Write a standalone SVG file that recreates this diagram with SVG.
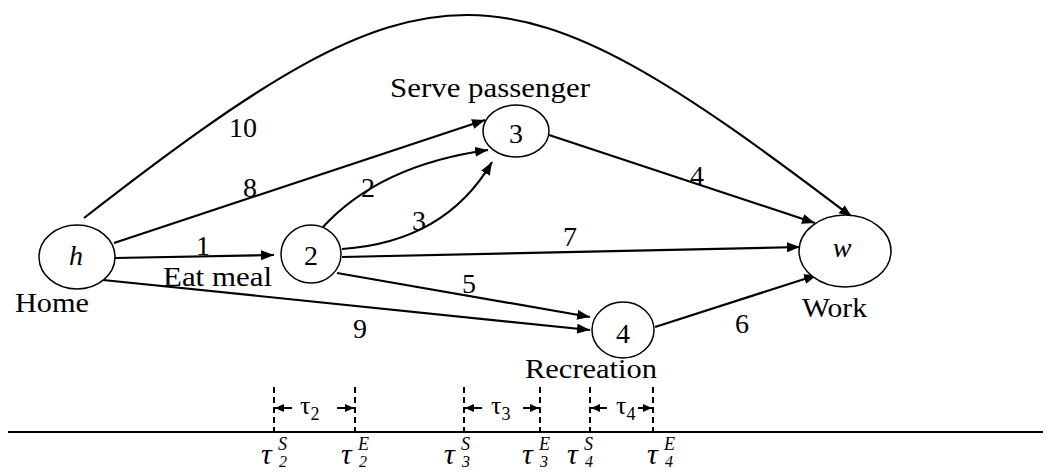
<svg xmlns="http://www.w3.org/2000/svg" width="1051" height="472" viewBox="0 0 1051 472" font-family="'Liberation Serif', 'DejaVu Serif', serif">
<style>
.node{fill:#fff;stroke:#000;stroke-width:1.5}
.edge{fill:none;stroke:#000;stroke-width:2.2}
.dash{fill:none;stroke:#000;stroke-width:2;stroke-dasharray:6 4}
text{font-family:'Liberation Serif','DejaVu Serif',serif;fill:#000}
.lbl{font-size:28px;text-anchor:middle}
.name{font-size:28px}
.it{font-style:italic}
</style>
<defs>
<marker id="ah" markerUnits="userSpaceOnUse" markerWidth="14" markerHeight="10" refX="13" refY="5" orient="auto"><path d="M0,0 L13,5 L0,10 Z" fill="#000"/></marker>
<marker id="sh" markerUnits="userSpaceOnUse" markerWidth="10" markerHeight="8" refX="9" refY="4" orient="auto"><path d="M0,0 L9,4 L0,8 Z" fill="#000"/></marker>
</defs>
<rect width="1051" height="472" fill="#fff"/>
<g id="connectors">
<path class="edge" d="M84,218 C435,-55 501,-50 852,217" marker-end="url(#ah)"/>
<path class="edge" d="M114,243 L485,120" marker-end="url(#ah)"/>
<path class="edge" d="M115,258 L274,255" marker-end="url(#ah)"/>
<path class="edge" d="M103,280 L590,330" marker-end="url(#ah)"/>
<path class="edge" d="M323,227 Q380,165 488,150" marker-end="url(#ah)"/>
<path class="edge" d="M342,249 Q445,242 492,162" marker-end="url(#ah)"/>
<path class="edge" d="M342,257 L800,247" marker-end="url(#ah)"/>
<path class="edge" d="M337,273 L590,317" marker-end="url(#ah)"/>
<path class="edge" d="M549,135 L815,223" marker-end="url(#ah)"/>
<path class="edge" d="M655,327 L817,275" marker-end="url(#ah)"/>
</g>
<g id="edge-labels">
<text class="lbl" x="243" y="137">10</text>
<text class="lbl" x="250" y="197">8</text>
<text class="lbl" x="368" y="197">2</text>
<text class="lbl" x="419" y="230">3</text>
<text class="lbl" x="697" y="185">4</text>
<text class="lbl" x="570" y="246">7</text>
<text class="lbl" x="203" y="255">1</text>
<text class="lbl" x="469" y="293">5</text>
<text class="lbl" x="360" y="338">9</text>
<text class="lbl" x="742" y="333">6</text>
</g>
<g id="node-h">
<ellipse class="node" cx="77" cy="257" rx="38" ry="32"/>
<text class="lbl it" x="76" y="265">h</text>
<text class="name" x="15" y="312" textLength="74" lengthAdjust="spacingAndGlyphs">Home</text>
</g>
<g id="node-2">
<ellipse class="node" cx="311" cy="254" rx="30" ry="29"/>
<text class="lbl" x="311" y="265">2</text>
<text class="name" x="163" y="286" textLength="109" lengthAdjust="spacingAndGlyphs">Eat meal</text>
</g>
<g id="node-3">
<ellipse class="node" cx="516" cy="131" rx="33" ry="26"/>
<text class="lbl" x="516" y="143">3</text>
<text class="name" x="390" y="97" textLength="200" lengthAdjust="spacingAndGlyphs">Serve passenger</text>
</g>
<g id="node-4">
<ellipse class="node" cx="623" cy="330" rx="31" ry="28"/>
<text class="lbl" x="623" y="343">4</text>
<text class="name" x="525" y="378" textLength="132" lengthAdjust="spacingAndGlyphs">Recreation</text>
</g>
<g id="node-w">
<ellipse class="node" cx="845" cy="251" rx="46" ry="36"/>
<text class="lbl it" x="842" y="257">w</text>
<text class="name" x="802" y="317" textLength="65" lengthAdjust="spacingAndGlyphs">Work</text>
</g>
<g id="timeline">
<line x1="8" y1="432" x2="1043" y2="432" stroke="#000" stroke-width="2"/>
<line class="dash" x1="274" y1="387" x2="274" y2="432"/>
<line class="dash" x1="355" y1="387" x2="355" y2="432"/>
<line class="dash" x1="464" y1="387" x2="464" y2="432"/>
<line class="dash" x1="540" y1="387" x2="540" y2="432"/>
<line class="dash" x1="590" y1="387" x2="590" y2="432"/>
<line class="dash" x1="653" y1="387" x2="653" y2="432"/>
<g stroke="#000" stroke-width="2">
<line x1="292" y1="408" x2="275" y2="408" marker-end="url(#sh)"/>
<line x1="337" y1="408" x2="354" y2="408" marker-end="url(#sh)"/>
<line x1="482" y1="408" x2="465" y2="408" marker-end="url(#sh)"/>
<line x1="523" y1="408" x2="539" y2="408" marker-end="url(#sh)"/>
<line x1="607" y1="408" x2="591" y2="408" marker-end="url(#sh)"/>
<line x1="638" y1="408" x2="652" y2="408" marker-end="url(#sh)"/>
</g>
<g font-size="26">
<text x="300" y="414" font-size="26">τ<tspan font-size="18" dy="6">2</tspan></text>
<text x="491" y="414" font-size="26">τ<tspan font-size="18" dy="6">3</tspan></text>
<text x="616" y="414" font-size="26">τ<tspan font-size="18" dy="6">4</tspan></text>
</g>
<g class="it">
<text class="it" x="261" y="464" font-size="30">τ</text><text class="it" x="278" y="450" font-size="18">S</text><text class="it" x="279" y="467" font-size="16">2</text>
<text class="it" x="341" y="464" font-size="30">τ</text><text class="it" x="358" y="450" font-size="18">E</text><text class="it" x="359" y="467" font-size="16">2</text>
<text class="it" x="444" y="464" font-size="30">τ</text><text class="it" x="461" y="450" font-size="18">S</text><text class="it" x="462" y="467" font-size="16">3</text>
<text class="it" x="522" y="464" font-size="30">τ</text><text class="it" x="539" y="450" font-size="18">E</text><text class="it" x="540" y="467" font-size="16">3</text>
<text class="it" x="567" y="464" font-size="30">τ</text><text class="it" x="584" y="450" font-size="18">S</text><text class="it" x="585" y="467" font-size="16">4</text>
<text class="it" x="647" y="464" font-size="30">τ</text><text class="it" x="664" y="450" font-size="18">E</text><text class="it" x="665" y="467" font-size="16">4</text>
</g>
</g>
</svg>
